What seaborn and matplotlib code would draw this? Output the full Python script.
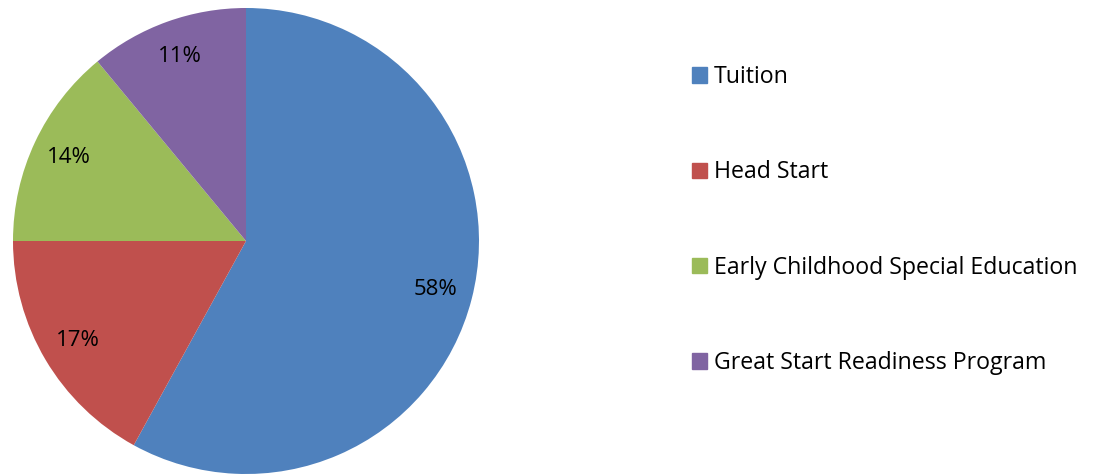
import matplotlib
matplotlib.use("Agg")
import matplotlib.pyplot as plt
import matplotlib.patches as mpatches
import seaborn as sns

# data
categories = ['Tuition', 'Head Start', 'Early Childhood Special Education', 'Great Start Readiness Program']
shares = [58, 17, 14, 11]
colours = ['#4F81BD', '#C0504D', '#9BBB59', '#8064A2']

sns.set_theme(style='white')
plt.rcParams['font.family'] = ['Open Sans', 'DejaVu Sans']

fig = plt.figure(figsize=(10.94, 4.75), dpi=100)
# pie centre ~ (246, 241) px, radius ~233 px
ax = fig.add_axes([13/1094, 1/475, 466/1094, 466/475])

wedges, texts, autotexts = ax.pie(shares, colors=sns.color_palette(colours), startangle=90,
                                  counterclock=False, autopct='%.0f%%', pctdistance=0.84,
                                  wedgeprops=dict(linewidth=0),
                                  textprops=dict(fontsize=16, color='black'))
ax.set_xlim(-1, 1)
ax.set_ylim(-1, 1)
ax.set_aspect('equal')
ax.axis('off')

handles = [mpatches.Patch(color=c, label=l) for c, l in zip(colours, categories)]
leg = fig.legend(handles=handles, loc='upper left', bbox_to_anchor=(692/1094, 1 - 65/475),
                 frameon=False, fontsize=16.7, handlelength=0.65, handleheight=0.65,
                 handletextpad=0.3, labelspacing=3.08, borderaxespad=0, borderpad=0)
for t in leg.get_texts():
    t.set_color('black')

fig.savefig('out.png', dpi=100)
